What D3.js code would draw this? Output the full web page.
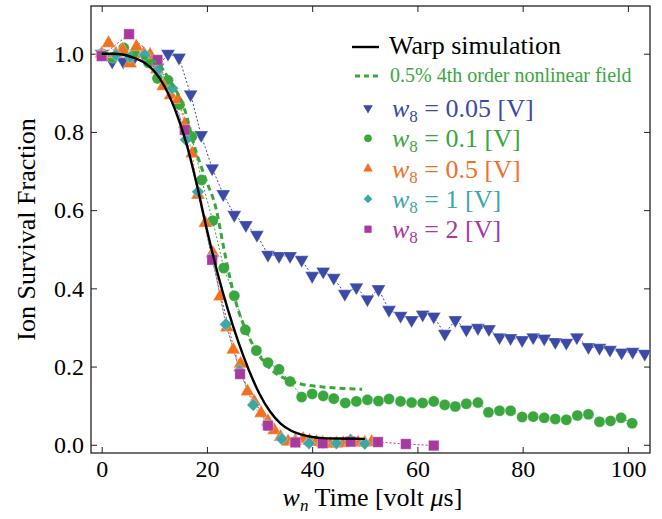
<!DOCTYPE html>
<html>
<head>
<meta charset="utf-8">
<script src="https://cdn.jsdelivr.net/npm/d3@7"></script>
<style>
  body { margin: 0; background: #fff; }
  text { font-family: "Liberation Serif", "Times New Roman", serif; }
</style>
</head>
<body>
<div id="chart"></div>
<script>
// data: [time, survival fraction]
var warpSim = [[0,1.0],[2,1.0],[4,0.998],[6,0.99],[8,0.978],[10,0.955],[12,0.915],[14,0.855],[16,0.775],[18,0.67],[20,0.55],[22,0.44],[24,0.345],[26,0.262],[28,0.19],[30,0.13],[32,0.085],[34,0.054],[36,0.036],[38,0.026],[40,0.02],[42,0.017],[45,0.016],[50,0.015]];

var nonlinear = [[0,1.0],[4,0.998],[8,0.99],[11,0.97],[13,0.93],[15.8,0.856],[17.7,0.76],[19.6,0.685],[21.8,0.6],[23.1,0.51],[24.4,0.425],[25.6,0.36],[27.5,0.29],[29.4,0.24],[32,0.195],[35,0.168],[38,0.155],[42,0.148],[46,0.144],[49.5,0.142]];

var w005 = [[0,1.0],[2.0,0.98],[4.1,0.98],[6.2,0.99],[8.3,0.99],[10.6,0.965],[12.6,1.0],[14.7,0.99],[16.9,0.896],[18.9,0.792],[21.0,0.707],[23.1,0.641],[25.2,0.588],[27.4,0.562],[29.5,0.537],[31.6,0.486],[33.7,0.483],[35.8,0.483],[38.0,0.473],[40.0,0.432],[42.1,0.443],[44.1,0.427],[46.2,0.386],[48.4,0.403],[50.5,0.372],[52.6,0.398],[54.6,0.345],[56.8,0.33],[58.9,0.319],[61.0,0.333],[63.1,0.328],[65.2,0.284],[67.2,0.319],[69.3,0.295],[71.5,0.299],[73.6,0.296],[75.6,0.275],[77.7,0.273],[79.9,0.268],[82.0,0.275],[84.1,0.272],[86.2,0.263],[88.3,0.261],[90.3,0.275],[92.5,0.25],[94.6,0.248],[96.6,0.243],[98.8,0.236],[100.9,0.238],[103.2,0.233]];

var w01 = [[0,1.0],[2.1,0.99],[4.2,1.015],[6.3,1.0],[8.9,0.977],[10.6,0.937],[12.6,0.932],[14.8,0.87],[17.1,0.788],[19.0,0.677],[21.1,0.573],[23.2,0.452],[25.2,0.381],[27.3,0.294],[29.4,0.241],[31.6,0.21],[33.7,0.193],[35.8,0.162],[38.0,0.122],[40.0,0.13],[42.1,0.125],[44.1,0.118],[46.3,0.107],[48.4,0.111],[50.5,0.115],[52.6,0.112],[54.6,0.117],[56.8,0.111],[58.9,0.108],[61.0,0.107],[63.1,0.111],[65.2,0.102],[67.2,0.098],[69.3,0.105],[71.5,0.108],[73.5,0.083],[75.6,0.087],[77.7,0.087],[79.9,0.071],[82.0,0.072],[84.1,0.069],[86.2,0.066],[88.3,0.064],[90.4,0.075],[92.5,0.078],[94.6,0.059],[96.7,0.061],[98.7,0.069],[100.8,0.055]];

var w05 = [[0,1.0],[1.3,1.027],[2.7,1.0],[4.0,1.01],[5.4,0.975],[6.6,1.018],[8.0,1.0],[9.2,0.997],[10.5,0.96],[11.7,0.917],[13.1,0.894],[14.5,0.883],[15.8,0.82],[17.2,0.745],[18.3,0.639],[19.7,0.567],[21.1,0.491],[22.5,0.379],[23.8,0.3],[25.0,0.243],[26.4,0.207],[27.7,0.136],[29.0,0.11],[30.3,0.081],[31.6,0.06],[32.8,0.037],[34.0,0.02],[35.4,0.008],[36.8,0.01],[38.3,0.015],[39.5,0.01],[40.8,0.007],[42.0,0.005],[43.4,0.002],[44.6,0.003],[45.9,0.004],[47.3,0.005],[48.7,0.006],[50.0,0.005],[51.3,0.007]];

var w1 = [[0,0.997],[2.7,0.997],[5.4,0.991],[8.2,0.997],[10.8,0.96],[13.4,0.912],[16.0,0.78],[18.3,0.647],[21.0,0.48],[23.6,0.308],[26.2,0.19],[28.8,0.102],[31.5,0.05],[34.2,0.015],[36.8,0.008],[39.4,0.004],[42.0,0.005],[44.6,0.004],[47.3,0.013],[50.0,0.003]];

var w2 = [[0,0.994],[5.2,1.05],[10.6,0.984],[15.8,0.805],[21.0,0.473],[26.3,0.181],[31.6,0.049],[36.8,0.006],[42.0,0.004],[47.3,0.008],[52.5,0.007],[57.8,0.002],[63.1,-0.002]];

var seriesNames = ["0.05", "0.1", "0.5", "1", "2"];
var seriesData = [w005, w01, w05, w1, w2];
var seriesColors = ["#3b4aa6", "#3aa63e", "#f2711f", "#3da7a6", "#a9389f"];
var seriesShapes = ["tridown", "circle", "triup", "diamond", "square"];

var xTicks = [0, 20, 40, 60, 80, 100];
var yTicks = [0.0, 0.2, 0.4, 0.6, 0.8, 1.0];

var svgWidth = 662;
var svgHeight = 519;

var margin = {top: 6, right: 12, bottom: 66, left: 91};

var width = svgWidth - margin.left - margin.right;
var height = svgHeight - margin.top - margin.bottom;

var svg = d3.select("#chart")
  .append("svg")
  .attr("width", svgWidth)
  .attr("height", svgHeight);

var chartGroup = svg.append("g")
  .attr("transform", `translate(${margin.left}, ${margin.top})`);

var xScale = d3.scaleLinear().domain([-2.03, 104.2]).range([0, width]);
var yScale = d3.scaleLinear().domain([-0.021, 1.122]).range([height, 0]);

svg.append("clipPath").attr("id", "plotclip")
  .append("rect").attr("width", width).attr("height", height);

// ticks on all four sides, pointing inward
var xMinor = d3.range(0, 105, 5);
var yMinor = d3.range(0, 1.11, 0.05);

function addAxis(axisFn, scale, ticks, minor, transform, labels) {
  var g = chartGroup.append("g").attr("transform", transform);
  g.call(axisFn(scale).tickValues(minor).tickSize(-3).tickFormat(""));
  g.call(axisFn(scale).tickValues(ticks).tickSize(-6).tickFormat(labels ? d => d : "")
    .tickPadding(labels ? 9 : 0));
  g.selectAll("path.domain").remove();
  g.selectAll("line").attr("stroke", "#222").attr("stroke-width", 1);
  return g;
}

var bottomG = addAxis(d3.axisBottom, xScale, xTicks, xMinor, `translate(0, ${height})`, true);
bottomG.selectAll("text").attr("font-size", "24px").attr("fill", "#000")
  .attr("dy", "0.72em").attr("y", 7);
addAxis(d3.axisTop, xScale, xTicks, xMinor, "translate(0,0)", false);
var leftG = addAxis(d3.axisLeft, yScale, yTicks, yMinor, "translate(0,0)", true);
leftG.selectAll("text").attr("font-size", "24px").attr("fill", "#000")
  .text(d => d.toFixed(1)).attr("x", -7);
addAxis(d3.axisRight, yScale, yTicks, yMinor, `translate(${width}, 0)`, false);

chartGroup.append("rect")
  .attr("width", width).attr("height", height)
  .attr("fill", "none").attr("stroke", "#222").attr("stroke-width", 1.3);

var plot = chartGroup.append("g").attr("clip-path", "url(#plotclip)");

var line = d3.line().x(d => xScale(d[0])).y(d => yScale(d[1]));
var smooth = d3.line().x(d => xScale(d[0])).y(d => yScale(d[1])).curve(d3.curveMonotoneX);

// thin dotted connectors
seriesData.forEach(function(data, i) {
  plot.append("path")
    .attr("d", line(data))
    .attr("fill", "none")
    .attr("stroke", seriesColors[i])
    .attr("stroke-width", 1)
    .attr("stroke-dasharray", "2,2");
});

function shapePath(shape, s) {
  if (shape === "circle") return d3.symbol(d3.symbolCircle, s * 1.15)();
  if (shape === "square") return d3.symbol(d3.symbolSquare, s * 1.3)();
  if (shape === "diamond") return d3.symbol(d3.symbolSquare, s * 0.95)();
  return d3.symbol(d3.symbolTriangle, s)();
}
function shapeRot(shape) {
  if (shape === "tridown") return 180;
  if (shape === "diamond") return 45;
  return 0;
}

seriesData.forEach(function(data, i) {
  var shape = seriesShapes[i];
  plot.selectAll(".m" + i)
    .data(data)
    .enter()
    .append("path")
    .attr("class", "m" + i)
    .attr("d", shapePath(shape, 84))
    .attr("transform", d => `translate(${xScale(d[0])}, ${yScale(d[1])}) rotate(${shapeRot(shape)})`)
    .attr("fill", seriesColors[i])
    .attr("stroke", "#fff")
    .attr("stroke-opacity", 0.5)
    .attr("stroke-width", 0.6);
});

plot.append("path")
  .attr("d", smooth(nonlinear))
  .attr("fill", "none")
  .attr("stroke", "#3aa63e")
  .attr("stroke-width", 3)
  .attr("stroke-dasharray", "6,4");

plot.append("path")
  .attr("d", smooth(warpSim))
  .attr("fill", "none")
  .attr("stroke", "#000")
  .attr("stroke-width", 2.4);

// legend
var legend = svg.append("g");
legend.append("line").attr("x1", 352).attr("x2", 379).attr("y1", 47).attr("y2", 47)
  .attr("stroke", "#000").attr("stroke-width", 2.4);
legend.append("text").attr("x", 389).attr("y", 54).attr("font-size", "26px")
  .text("Warp simulation");
legend.append("line").attr("x1", 355).attr("x2", 379).attr("y1", 76).attr("y2", 76)
  .attr("stroke", "#3aa63e").attr("stroke-width", 3).attr("stroke-dasharray", "5,4");
legend.append("text").attr("x", 390).attr("y", 82).attr("font-size", "20px")
  .attr("fill", "#3aa63e").text("0.5% 4th order nonlinear field");

seriesNames.forEach(function(name, i) {
  var base = 117 + i * 30.3;
  var shape = seriesShapes[i];
  legend.append("path")
    .attr("d", shapePath(shape, 40))
    .attr("transform", `translate(368, ${base - 9}) rotate(${shapeRot(shape)})`)
    .attr("fill", seriesColors[i]);
  var t = legend.append("text").attr("x", 392).attr("y", base)
    .attr("font-size", "26px").attr("fill", seriesColors[i]);
  t.append("tspan").attr("font-style", "italic").text("w");
  t.append("tspan").attr("font-size", "17px").attr("dy", 5).text("8");
  t.append("tspan").attr("dy", -5).text("\u00a0= " + name + " [V]");
});

// axis labels
var xl = svg.append("text")
  .attr("x", margin.left + width / 2 + 2)
  .attr("y", 506)
  .attr("text-anchor", "middle")
  .attr("font-size", "26px");
xl.append("tspan").attr("font-style", "italic").text("w");
xl.append("tspan").attr("font-style", "italic").attr("font-size", "17px").attr("dy", 5).text("n");
xl.append("tspan").attr("dy", -5).text(" Time [volt ");
xl.append("tspan").attr("font-style", "italic").text("\u03bc");
xl.append("tspan").text("s]");

svg.append("text")
  .attr("transform", `translate(35, ${margin.top + height / 2}) rotate(-90)`)
  .attr("text-anchor", "middle")
  .attr("font-size", "26px")
  .text("Ion Survival Fraction");
</script>
</body>
</html>
